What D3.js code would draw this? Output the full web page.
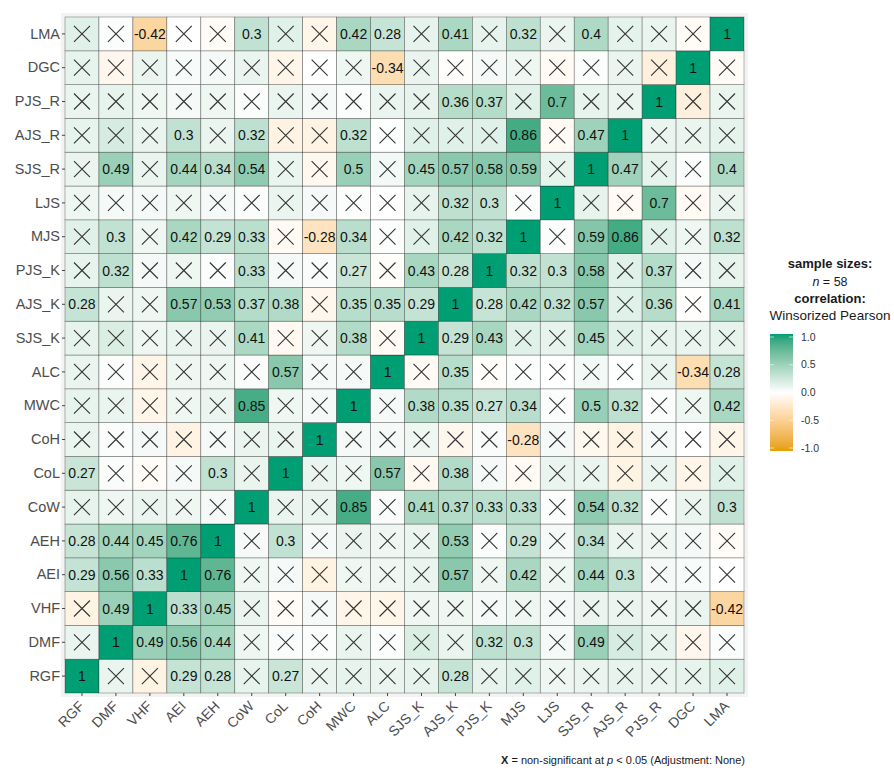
<!DOCTYPE html>
<html>
<head>
<meta charset="utf-8">
<script src="https://cdn.jsdelivr.net/npm/d3@7"></script>
<style>
  html, body { margin: 0; padding: 0; background: #ffffff; }
  svg { display: block; font-family: "Liberation Sans", Arial, sans-serif; }
</style>
</head>
<body>
<svg id="chart" width="894" height="778"></svg>
<script>
// Variables, in axis order (first = left column / bottom row)
const variables = ["RGF", "DMF", "VHF", "AEI", "AEH", "CoW", "CoL", "CoH", "MWC", "ALC",
  "SJS_K", "AJS_K", "PJS_K", "MJS", "LJS", "SJS_R", "AJS_R", "PJS_R", "DGC", "LMA"];

// Lower triangle of the winsorized Pearson correlation matrix:
// row i holds r(variables[i], variables[j]) for j < i
const lowerTriangle = [
  [],
  [0.10],
  [-0.12, 0.49],
  [0.29, 0.56, 0.33],
  [0.28, 0.44, 0.45, 0.76],
  [0.12, 0.08, 0.10, 0.08, 0.05],
  [0.27, 0.03, -0.03, 0.05, 0.30, 0.10],
  [0.10, 0.02, 0.05, -0.12, 0.05, 0.10, 0.10],
  [0.12, 0.10, -0.10, 0.08, 0.10, 0.85, 0.08, 0.05],
  [0.10, 0.02, -0.10, 0.08, 0.08, 0.03, 0.57, 0.05, 0.05],
  [0.12, 0.18, 0.08, 0.10, 0.10, 0.41, -0.06, 0.08, 0.38, -0.05],
  [0.28, 0.10, 0.08, 0.57, 0.53, 0.37, 0.38, -0.08, 0.35, 0.35, 0.29],
  [0.12, 0.32, 0.05, 0.08, 0.02, 0.33, 0.05, 0.03, 0.27, -0.02, 0.43, 0.28],
  [0.15, 0.30, 0.08, 0.42, 0.29, 0.33, -0.05, -0.28, 0.34, 0.02, 0.15, 0.42, 0.32],
  [0.08, 0.05, 0.05, 0.08, 0.05, 0.02, 0.10, 0.05, 0.02, 0.00, 0.12, 0.32, 0.30, 0.02],
  [0.10, 0.49, 0.10, 0.44, 0.34, 0.54, 0.10, -0.07, 0.50, 0.06, 0.45, 0.57, 0.58, 0.59, 0.12],
  [0.12, 0.20, 0.10, 0.30, 0.10, 0.32, -0.12, -0.12, 0.32, 0.01, 0.15, 0.15, 0.15, 0.86, -0.05, 0.47],
  [0.10, 0.12, 0.08, 0.05, 0.08, 0.02, 0.10, 0.05, 0.02, 0.10, 0.12, 0.36, 0.37, 0.15, 0.70, 0.12, 0.10],
  [0.12, -0.08, 0.10, 0.04, 0.05, 0.10, -0.10, 0.00, 0.08, -0.34, 0.10, -0.01, 0.05, 0.08, -0.05, 0.02, 0.10, -0.15],
  [0.15, 0.02, -0.42, 0.00, -0.03, 0.30, 0.15, -0.10, 0.42, 0.28, 0.12, 0.41, 0.12, 0.32, 0.10, 0.40, 0.13, 0.10, -0.03]
];

const sampleSize = 58;
const tCritical = 2.003;          // two-sided, alpha = 0.05, df = 56
const legendTicks = [1, 0.5, 0, -0.5, -1];
const paletteStops = ["#E69F00", "#ffffff", "#009E73"];

// ---- build the full symmetric matrix ----
const cells = [];
variables.forEach((row, i) => {
  variables.forEach((col, j) => {
    let r;
    if (i === j) r = 1;
    else if (j < i) r = lowerTriangle[i][j];
    else r = lowerTriangle[j][i];
    const t = Math.abs(r) >= 1 ? Infinity : Math.abs(r) * Math.sqrt((sampleSize - 2) / (1 - r * r));
    cells.push({ row, col, r, significant: t > tCritical });
  });
});

const svg = d3.select("#chart");

const grid = { left: 65, right: 744, top: 17, bottom: 693 };

const x = d3.scaleBand().domain(variables).range([grid.left, grid.right]);
const y = d3.scaleBand().domain(variables).range([grid.bottom, grid.top]);

const color = d3.scaleLinear()
  .domain([-1, 0, 1])
  .range(paletteStops)
  .interpolate(d3.interpolateLab);

// panel backdrop
svg.append("rect")
  .attr("x", grid.left - 4).attr("y", grid.top - 4)
  .attr("width", grid.right - grid.left + 8).attr("height", grid.bottom - grid.top + 8)
  .attr("fill", "#f3f3f3");

// tiles
const tiles = svg.append("g");
tiles.selectAll("rect")
  .data(cells)
  .join("rect")
  .attr("x", d => x(d.col))
  .attr("y", d => y(d.row))
  .attr("width", x.bandwidth())
  .attr("height", y.bandwidth())
  .attr("fill", d => color(d.r))
  .attr("stroke", "rgba(0,0,0,0.4)")
  .attr("stroke-width", 0.7);

// value labels for significant cells
const fmt = v => String(+v.toFixed(2));
svg.append("g")
  .selectAll("text")
  .data(cells.filter(d => d.significant))
  .join("text")
  .attr("x", d => x(d.col) + x.bandwidth() / 2)
  .attr("y", d => y(d.row) + y.bandwidth() / 2)
  .attr("dy", "0.36em")
  .attr("text-anchor", "middle")
  .attr("font-size", 14)
  .attr("fill", "#111")
  .text(d => fmt(d.r));

// crosses for non-significant cells
const half = 8;
const crosses = svg.append("g")
  .attr("stroke", "#333")
  .attr("stroke-width", 1.1)
  .attr("fill", "none");
crosses.selectAll("path")
  .data(cells.filter(d => !d.significant))
  .join("path")
  .attr("d", d => {
    const cx = x(d.col) + x.bandwidth() / 2;
    const cy = y(d.row) + y.bandwidth() / 2;
    return `M${cx - half},${cy - half}L${cx + half},${cy + half}M${cx - half},${cy + half}L${cx + half},${cy - half}`;
  });

// axes
const yAxis = svg.append("g")
  .attr("transform", `translate(${grid.left},0)`)
  .call(d3.axisLeft(y).tickSize(3).tickPadding(2));
yAxis.select(".domain").remove();
yAxis.selectAll("line").attr("stroke", "#444");
yAxis.selectAll("text")
  .attr("font-size", 14.5)
  .attr("font-family", "Liberation Sans, Arial, sans-serif")
  .attr("fill", "#4d4d4d");

const xAxis = svg.append("g")
  .attr("transform", `translate(0,${grid.bottom})`)
  .call(d3.axisBottom(x).tickSize(3).tickPadding(2));
xAxis.select(".domain").remove();
xAxis.selectAll("line").attr("stroke", "#444");
xAxis.selectAll("text")
  .attr("font-size", 14)
  .attr("font-family", "Liberation Sans, Arial, sans-serif")
  .attr("fill", "#4d4d4d")
  .attr("text-anchor", "end")
  .attr("dy", "0.35em")
  .attr("transform", "translate(-4,7) rotate(-45)");

// legend
const legend = svg.append("g").attr("text-anchor", "middle");
const lx = 830;
legend.append("text").attr("x", lx).attr("y", 268)
  .attr("font-size", 13).attr("font-weight", "bold").attr("fill", "#1a1a1a").text("sample sizes:");
const nText = legend.append("text").attr("x", lx).attr("y", 286)
  .attr("font-size", 12.5).attr("fill", "#1a1a1a");
nText.append("tspan").attr("font-style", "italic").text("n");
nText.append("tspan").text(` = ${sampleSize}`);
legend.append("text").attr("x", lx).attr("y", 303)
  .attr("font-size", 13).attr("font-weight", "bold").attr("fill", "#1a1a1a").text("correlation:");
legend.append("text").attr("x", lx).attr("y", 320)
  .attr("font-size", 13.5).attr("fill", "#1a1a1a").text("Winsorized Pearson");

const barX = 770, barW = 23, barTop = 334, barBottom = 451;
const legendScale = d3.scaleLinear().domain([1, -1]).range([barTop + 3, barBottom - 3]);
const defs = svg.append("defs");
const grad = defs.append("linearGradient").attr("id", "corrGrad")
  .attr("x1", 0).attr("y1", 0).attr("x2", 0).attr("y2", 1);
d3.range(0, 1.0001, 0.05).forEach(f => {
  grad.append("stop").attr("offset", f).attr("stop-color", color(1 - 2 * f));
});
svg.append("rect")
  .attr("x", barX).attr("y", barTop)
  .attr("width", barW).attr("height", barBottom - barTop)
  .attr("fill", "url(#corrGrad)");
const legendAxis = svg.append("g");
legendAxis.selectAll("line")
  .data(legendTicks)
  .join("line")
  .attr("x1", barX).attr("x2", barX + 4)
  .attr("y1", d => legendScale(d)).attr("y2", d => legendScale(d))
  .attr("stroke", "#fff").attr("stroke-opacity", 0.6);
legendAxis.selectAll("line.r")
  .data(legendTicks)
  .join("line")
  .attr("x1", barX + barW - 4).attr("x2", barX + barW)
  .attr("y1", d => legendScale(d)).attr("y2", d => legendScale(d))
  .attr("stroke", "#fff").attr("stroke-opacity", 0.6);
legendAxis.selectAll("text")
  .data(legendTicks)
  .join("text")
  .attr("x", barX + barW + 8)
  .attr("y", d => legendScale(d))
  .attr("dy", "0.35em")
  .attr("font-size", 10.5)
  .attr("fill", "#333")
  .text(d => d.toFixed(1));

// caption
const caption = svg.append("text")
  .attr("x", 745).attr("y", 764)
  .attr("text-anchor", "end")
  .attr("font-size", 11)
  .attr("fill", "#1a1a1a");
caption.append("tspan").attr("font-weight", "bold").text("X");
caption.append("tspan").text(" = non-significant at ");
caption.append("tspan").attr("font-style", "italic").text("p");
caption.append("tspan").text(" < 0.05 (Adjustment: None)");
</script>
</body>
</html>
